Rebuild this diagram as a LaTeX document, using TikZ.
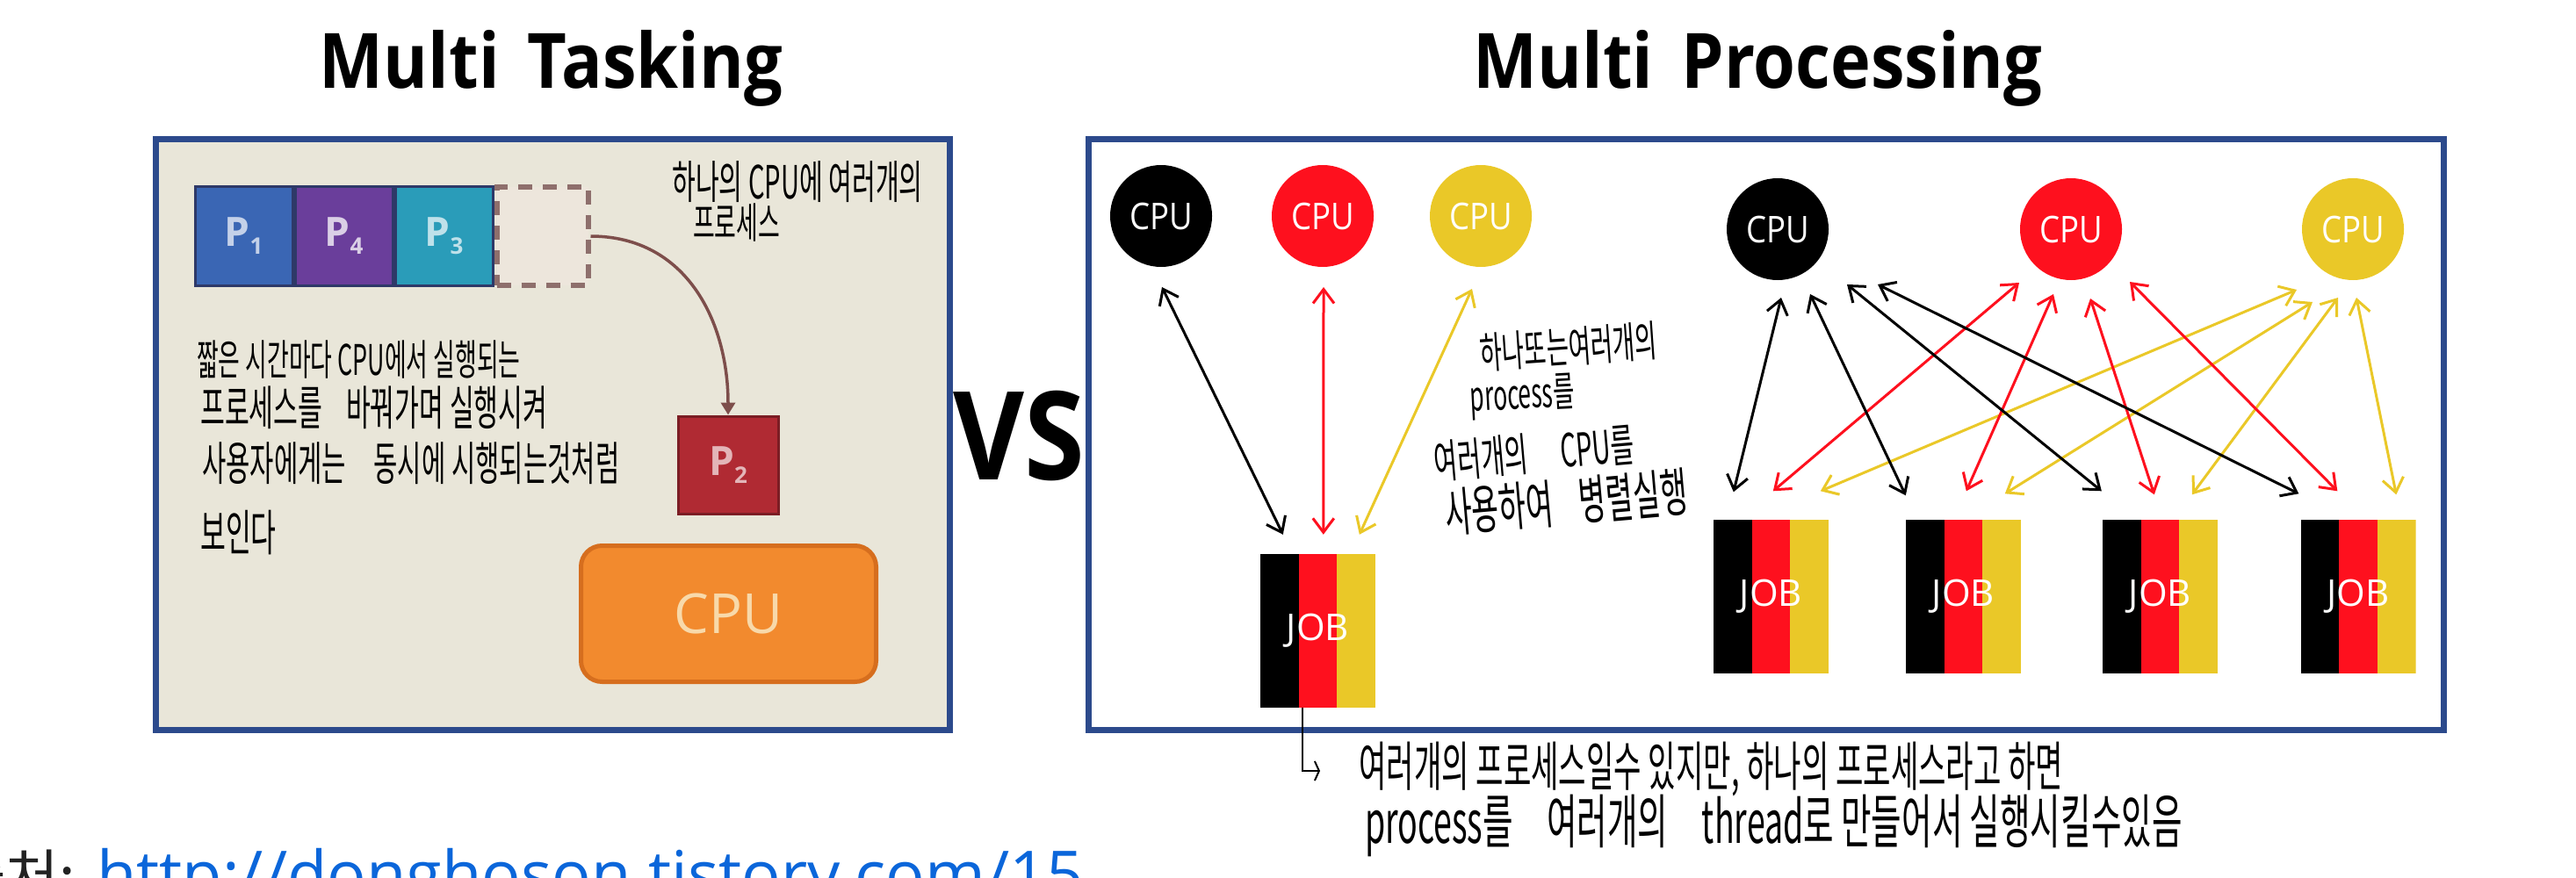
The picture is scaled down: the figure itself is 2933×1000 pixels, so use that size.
\documentclass[tikz,border=0pt]{standalone}
\usepackage{fontspec}
\setmainfont{Open Sans}
\newfontfamily\krfont{Noto Sans CJK KR}
\newfontfamily\handfont[FakeStretch=0.56]{Noto Sans CJK KR}
\newfontfamily\cpufont[FakeStretch=0.87]{Open Sans}
\newfontfamily\titlefont[FakeStretch=0.89]{Open Sans}
\usetikzlibrary{positioning, calc, arrows.meta}

\definecolor{frameblue}{HTML}{2C4A8C}
\definecolor{paper}{HTML}{E9E6D9}
\definecolor{slotfill}{HTML}{EDE6DC}
\definecolor{cpublack}{HTML}{000000}
\definecolor{cpured}{HTML}{FE101E}
\definecolor{cpuyellow}{HTML}{EAC828}
\definecolor{pblue}{HTML}{3A66B4}
\definecolor{ppurple}{HTML}{6A3E9B}
\definecolor{pteal}{HTML}{2A9CB9}
\definecolor{pedge}{HTML}{2E3968}
\definecolor{pred}{HTML}{B02A33}
\definecolor{corange}{HTML}{F28A2E}
\definecolor{cedge}{HTML}{D66E1E}
\definecolor{slotedge}{HTML}{8E6F6C}
\definecolor{arrowbrown}{HTML}{7D4E4B}
\definecolor{linkblue}{HTML}{0B66DA}

\newcommand{\psub}[1]{P\raisebox{-9pt}{\fontsize{26}{26}\selectfont #1}}

\begin{document}
\begin{tikzpicture}[x=1pt, y=-1pt,
    frame/.style={draw=frameblue, line width=7pt, inner sep=0},
    title/.style={font=\titlefont\bfseries\fontsize{87}{90}\selectfont, anchor=base},
    proc/.style={minimum width=111pt, minimum height=112pt, inner sep=0, draw=pedge, line width=3pt, font=\bfseries\fontsize{46}{46}\selectfont},
    cpu/.style={circle, minimum size=116pt, inner sep=0, text=white, font=\cpufont\fontsize{42}{42}\selectfont},
    job/.style={minimum width=131pt, minimum height=175pt, inner sep=0, text=white, font=\fontsize{42}{42}\selectfont,
        path picture={
            \fill[cpublack] (path picture bounding box.north west) rectangle ($(path picture bounding box.south west)!1/3!(path picture bounding box.south east)$);
            \fill[cpured] ($(path picture bounding box.north west)!1/3!(path picture bounding box.north east)$) rectangle ($(path picture bounding box.south west)!2/3!(path picture bounding box.south east)$);
            \fill[cpuyellow] ($(path picture bounding box.north west)!2/3!(path picture bounding box.north east)$) rectangle (path picture bounding box.south east);
        }},
    link/.style={line width=3pt, {Straight Barb[length=16pt,width=24pt]}-{Straight Barb[length=16pt,width=24pt]}},
    hand/.style={font=\handfont\fontsize{#1}{#1}\selectfont, inner sep=0, anchor=west},
    hand/.default=52]

    \clip (0,0) rectangle (2933,1000);
    \fill[white] (0,0) rectangle (2933,1000);

    % Titles
    \node[title] (titleL) at (627.5,101) {Multi\hspace{12pt} Tasking};
    \node[title] (titleR) at (2001.5,101) {Multi\hspace{12pt} Processing};
    \node[font=\titlefont\bfseries\fontsize{140}{140}\selectfont, anchor=base] (vs) at (1160,546) {VS};

    % Multi tasking panel
    \node[frame, fill=paper, minimum width=904pt, minimum height=673pt] (boxL) at (629.5,495) {};

    \node[proc, fill=pblue, text=pblue!30!white] (proc1) at (277.5,269) {\psub{1}};
    \node[proc, fill=ppurple, text=ppurple!25!white, right=0pt of proc1] (proc4) {\psub{4}};
    \node[proc, fill=pteal, text=pteal!30!white, right=0pt of proc4] (proc3) {\psub{3}};
    \node[minimum width=104pt, minimum height=112pt, inner sep=0, draw=slotedge, fill=slotfill,
        line width=6pt, dash pattern=on 16pt off 12pt, right=0pt of proc3] (slot) {};
    \node[proc, fill=pred, draw=pred!70!black, text=pred!35!white, minimum width=114pt, minimum height=111pt] (proc2) at (829,529.5) {\psub{2}};
    \node[rounded corners=24pt, fill=corange, draw=cedge, line width=5pt, minimum width=336pt, minimum height=155pt,
        text={rgb,255:red,248;green,217;blue,170}, font=\fontsize{63}{63}\selectfont] (core) at (829.5,699) {CPU};

    \draw[arrowbrown, line width=3.5pt, -{Triangle[length=14pt,width=16pt]}]
        (slot.east) .. controls +(110,0) and +(0,-105) .. (proc2.north);

    % notes, left panel
    \node[hand] (noteA) at (765,207) {하나의 CPU에 여러개의};
    \node[hand=48] (noteB) at (789,254) {프로세스};
    \node[hand=48] (noteC) at (224,410) {짧은 시간마다 CPU에서 실행되는};
    \node[hand=54] (noteD) at (228,464) {프로세스를\hspace{20pt} 바꿔가며 실행시켜};
    \node[hand=53] (noteE) at (230,528) {사용자에게는\hspace{25pt} 동시에 시행되는것처럼};
    \node[hand=56] (noteF) at (228,607) {보인다};

    % Multi processing panel
    \node[frame, fill=white, minimum width=1543pt, minimum height=673pt] (boxR) at (2011,495) {};

    \node[cpu, fill=cpublack] (cpuK) at (1322,246) {CPU};
    \node[cpu, fill=cpured] (cpuR) at (1506,246) {CPU};
    \node[cpu, fill=cpuyellow] (cpuY) at (1686,246) {CPU};
    \node[job] (jobL) at (1500.5,718.5) {JOB};

    \draw[link, cpublack] ([shift={(1,81)}]cpuK.center) -- ([shift={(26,-22)}]jobL.north west);
    \draw[link, cpured] ([shift={(1,81)}]cpuR.center) -- ([shift={(72,-22)}]jobL.north west);
    \draw[link, cpuyellow] ([shift={(-10,83)}]cpuY.center) -- ([shift={(113,-22)}]jobL.north west);

    \node[hand=49, rotate=4] (midA) at (1685,402) {하나또는여러개의};
    \node[hand=47, rotate=3] (midB) at (1674,455) {process를};
    \node[hand=52, rotate=5] (midC) at (1633,526) {여러개의\hspace{30pt} CPU를};
    \node[hand=60, rotate=5] (midD) at (1645,584) {사용하여\hspace{22pt} 병렬실행};

    \node[cpu, fill=cpublack] (cpuA) at (2024,261) {CPU};
    \node[cpu, fill=cpured] (cpuB) at (2358,261) {CPU};
    \node[cpu, fill=cpuyellow] (cpuC) at (2679,261) {CPU};
    \node[job] (job1) at (2016.5,679) {JOB};
    \node[job] (job2) at (2235.5,679) {JOB};
    \node[job] (job3) at (2459.5,679) {JOB};
    \node[job] (job4) at (2685,679) {JOB};

    \draw[link, cpuyellow] ([shift={(-64,69)}]cpuC.center) -- ([shift={(122,-32)}]job1.north west);
    \draw[link, cpuyellow] ([shift={(-46,83)}]cpuC.center) -- ([shift={(113,-29)}]job2.north west);
    \draw[link, cpuyellow] ([shift={(-17,78)}]cpuC.center) -- ([shift={(102,-28)}]job3.north west);
    \draw[link, cpuyellow] ([shift={(4,78)}]cpuC.center) -- ([shift={(109,-28)}]job4.north west);
    \draw[link, cpured] ([shift={(-59,61)}]cpuB.center) -- ([shift={(68,-32)}]job1.north west);
    \draw[link, cpured] ([shift={(-20,74)}]cpuB.center) -- ([shift={(69,-32)}]job2.north west);
    \draw[link, cpured] ([shift={(22,79)}]cpuB.center) -- ([shift={(59,-28)}]job3.north west);
    \draw[link, cpured] ([shift={(67,60)}]cpuB.center) -- ([shift={(42,-32)}]job4.north west);
    \draw[link, cpublack] ([shift={(4,78)}]cpuA.center) -- ([shift={(23,-31)}]job1.north west);
    \draw[link, cpublack] ([shift={(37,74)}]cpuA.center) -- ([shift={(0,-27)}]job2.north west);
    \draw[link, cpublack] ([shift={(79,63)}]cpuA.center) -- ([shift={(-1,-32)}]job3.north west);
    \draw[link, cpublack] ([shift={(114,63)}]cpuA.center) -- ([shift={(-2,-29)}]job4.north west);

    % note below the panel
    \coordinate (hookEnd) at (1503,878);
    \draw[line width=2pt, -{Straight Barb[length=5pt,width=22pt]}] ([xshift=-18pt]jobL.south) |- (hookEnd);
    \node[hand=61] (noteG) at (1547,876) {여러개의 프로세스일수 있지만, 하나의 프로세스라고 하면};
    \node[hand=67] (noteH) at (1554,940) {process를\hspace{30pt} 여러개의\hspace{30pt} thread로 만들어서 실행시킬수있음};

    % source line, cut at the bottom edge
    \node[font=\krfont\fontsize{66}{70}\selectfont, text={rgb,255:red,34;green,34;blue,34}, anchor=base east, inner sep=0] (srcLabel) at (86,1022) {출처:};
    \node[font=\fontsize{74}{80}\selectfont, text=linkblue, anchor=base west, inner sep=0] (srcLink) at (110,1022) {http://donghoson.tistory.com/15};
\end{tikzpicture}
\end{document}
